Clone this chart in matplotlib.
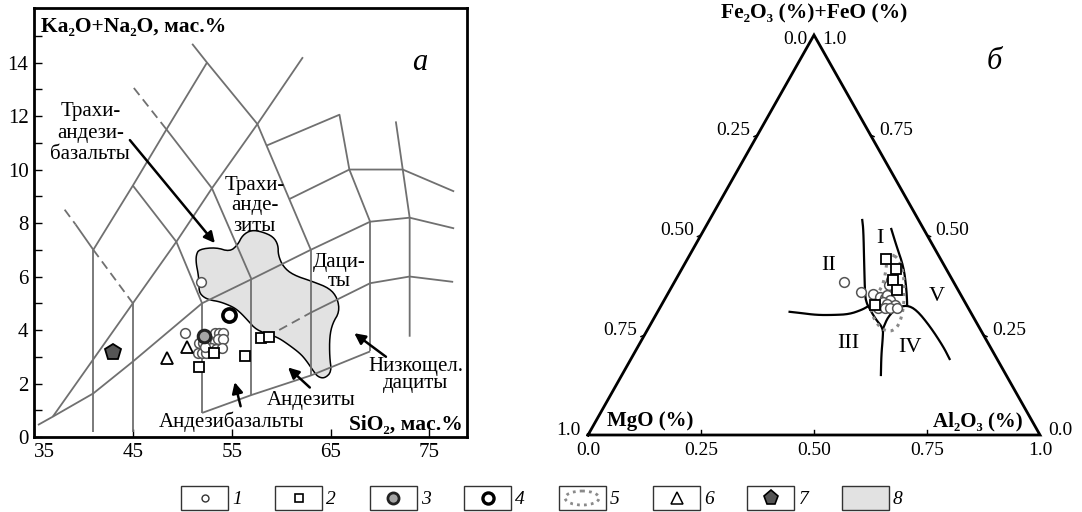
import matplotlib.pyplot as plt
from matplotlib.patches import Polygon, Rectangle, Ellipse

plt.rcParams['font.family'] = ['Liberation Serif', 'DejaVu Serif']

W, H = 1082, 512
GRID = '#707070'

# ---------------- panel a: SiO2 vs Na2O+K2O (wt.%) ----------------
# 1 - open circles
SIO2_1 = [51.9, 50.3, 53.3, 53.7, 54.1, 51.7, 52.1, 52.6, 53.3, 53.6, 54.1,
          51.6, 52.0, 52.4, 52.9, 53.4, 54.0, 52.3]
ALK_1 = [5.81, 3.88, 3.88, 3.88, 3.88, 3.50, 3.53, 3.56, 3.56, 3.65, 3.65,
         3.15, 3.15, 3.15, 3.32, 3.28, 3.32, 3.38]
# 2 - squares
SIO2_2 = [51.7, 53.2, 56.3, 58.0, 58.75]
ALK_2 = [2.63, 3.13, 3.03, 3.69, 3.75]
# 3 - grey circle, 4 - bold circle, 6 - triangles, 7 - pentagon
SIO2_3, ALK_3 = [52.2], [3.78]
SIO2_4, ALK_4 = [54.7], [4.56]
SIO2_6, ALK_6 = [48.5, 50.5], [2.94, 3.38]
SIO2_7, ALK_7 = [43.0], [3.19]

# 8 - field of the complex (grey area)
FIELD_SIO2 = [51.4, 51.7, 53.4, 54.8, 55.6, 56.1, 57.0, 58.1, 59.2, 59.7, 59.7,
              60.2, 61.2, 63.2, 64.9, 65.7, 65.9, 65.2, 64.9, 64.9, 65.1, 64.4,
              63.7, 63.2, 62.5, 61.9, 60.8, 59.8, 59.0, 57.5, 56.6, 55.8, 55.1,
              53.8, 52.8, 52.1, 51.7, 51.7, 51.6, 51.4]
FIELD_ALK = [6.80, 7.02, 7.09, 6.93, 7.18, 7.55, 7.74, 7.67, 7.49, 7.18, 6.80,
             6.37, 6.06, 5.81, 5.56, 5.19, 4.68, 4.25, 3.75, 3.00, 2.44, 2.19,
             2.25, 2.50, 2.88, 3.13, 3.44, 3.69, 3.81, 4.00, 4.37, 4.68, 4.87,
             5.06, 5.12, 5.24, 5.43, 5.75, 6.12, 6.49]

# classification boundaries (SiO2, alk)
TAS_SOLID = [
    [(51.0, 14.7), (52.5, 14.0), (57.6, 11.7), (63.0, 7.0)],
    [(57.6, 11.7), (62.2, 14.2)],
    [(41.0, 7.0), (45.0, 9.4), (48.4, 11.5), (52.5, 14.0)],
    [(48.4, 11.5), (53.0, 9.3), (57.0, 5.9)],
    [(45.0, 9.4), (49.4, 7.3), (52.0, 5.0)],
    [(36.9, 0.76), (45.0, 5.0), (49.4, 7.3), (53.0, 9.3), (57.6, 11.7)],
    [(35.4, 0.45), (36.9, 0.76), (41.0, 1.63), (45.0, 2.82), (52.0, 5.0),
     (57.0, 5.9), (63.0, 7.0), (69.0, 8.05), (73.0, 8.2), (77.5, 7.8)],
    [(41.0, 7.0), (41.0, 0.2)],
    [(45.0, 5.0), (45.0, 0.2)],
    [(52.0, 5.0), (52.0, 0.9)],
    [(57.0, 5.9), (57.0, 1.57)],
    [(63.0, 7.0), (63.0, 2.3)],
    [(69.0, 8.05), (69.0, 3.2)],
    [(52.0, 0.9), (57.0, 1.57), (63.0, 2.3), (69.0, 3.2)],
    [(63.0, 4.65), (69.0, 5.75), (73.0, 6.0), (77.4, 5.8)],
    [(71.6, 11.8), (72.3, 10.0), (73.0, 8.2), (73.0, 3.75)],
    [(58.55, 10.9), (65.9, 12.05), (66.9, 10.0), (69.0, 8.05)],
    [(60.85, 8.9), (66.9, 10.0), (72.3, 10.0), (77.5, 9.18)],
    [(39.2, 7.95), (41.0, 7.0)],
]
TAS_DASHED = [
    [(45.1, 13.05), (48.4, 11.5)],
    [(59.8, 4.0), (63.0, 4.65)],
    [(38.1, 8.5), (39.2, 7.95)],
    [(41.0, 7.0), (45.0, 5.0)],
]

# ---------------- panel b: MgO - FeOt - Al2O3 ----------------
FE_1 = [0.383, 0.357, 0.3525, 0.346, 0.342, 0.35, 0.3375, 0.333, 0.3275,
        0.325, 0.317, 0.317, 0.317, 0.317, 0.3875, 0.375]
AL_1 = [0.3755, 0.4265, 0.454, 0.473, 0.486, 0.487, 0.499, 0.4855, 0.498,
        0.5165, 0.4835, 0.4985, 0.5095, 0.5245, 0.476, 0.4795]
FE_2 = [0.439, 0.414, 0.3875, 0.3625, 0.325]
AL_2 = [0.4395, 0.474, 0.480, 0.503, 0.4725]

FE_5 = [0.452, 0.44, 0.41, 0.37, 0.33, 0.295, 0.268, 0.258, 0.265, 0.285,
        0.31, 0.335, 0.36, 0.385, 0.42, 0.445]
AL_5 = [0.446, 0.468, 0.492, 0.515, 0.534, 0.5465, 0.55, 0.539, 0.5175,
        0.4925, 0.471, 0.4625, 0.465, 0.4625, 0.45, 0.4395]

# field boundaries (Pearce et al.) as (FeOt, Al2O3) fractions
BND_A_FE = [0.5375, 0.5125, 0.429, 0.346, 0.329, 0.322, 0.29, 0.267, 0.24, 0.2, 0.15]
BND_A_AL = [0.338, 0.353, 0.3965, 0.44, 0.4525, 0.459, 0.491, 0.5195, 0.532, 0.549, 0.573]
BND_B_FE = [0.308, 0.305, 0.30, 0.30, 0.302, 0.313, 0.322]
BND_B_AL = [0.292, 0.3175, 0.356, 0.393, 0.427, 0.4495, 0.459]
BND_C_FE = [0.267, 0.296, 0.317, 0.325, 0.3125, 0.271, 0.221, 0.19]
BND_C_AL = [0.5195, 0.516, 0.5245, 0.5425, 0.5708, 0.6215, 0.6755, 0.705]
BND_D_FE = [0.515, 0.471, 0.421, 0.371, 0.333, 0.325]
BND_D_AL = [0.4135, 0.4475, 0.4875, 0.5185, 0.5395, 0.5435]

TERN_TICKS = [0.25, 0.50, 0.75]
LEG_LABELS = ['1', '2', '3', '4', '5', '6', '7', '8']


def tern(fe, al):
    return [a + f / 2 for f, a in zip(fe, al)], list(fe)


def chaikin(xs, ys, closed=False, n=2):
    # corner cutting, only to round off the hand-traced outlines
    pts = list(zip(xs, ys))
    for _ in range(n):
        out = [] if closed else [pts[0]]
        m = len(pts) if closed else len(pts) - 1
        for i in range(m):
            (x0, y0), (x1, y1) = pts[i], pts[(i + 1) % len(pts)]
            out.append((0.75 * x0 + 0.25 * x1, 0.75 * y0 + 0.25 * y1))
            out.append((0.25 * x0 + 0.75 * x1, 0.25 * y0 + 0.75 * y1))
        if not closed:
            out.append(pts[-1])
        pts = out
    return pts


def px_axes(x0, y0, x1, y1):
    return fig.add_axes([x0 / W, 1 - y1 / H, (x1 - x0) / W, (y1 - y0) / H])


fig = plt.figure(figsize=(W / 100, H / 100), dpi=100)

# ================= panel a =================
ax = px_axes(34, 8, 467, 437)
ax.set_xlim(35, 78.8)
ax.set_ylim(0, 16.04)
for s in ax.spines.values():
    s.set_linewidth(2)
ax.set_xticks([35, 45, 55, 65, 75])
ax.set_yticks(range(0, 15, 2))
ax.set_yticks(range(1, 16, 2), minor=True)
ax.tick_params(direction='in', length=6, width=1, labelsize=15, pad=4)
ax.tick_params(which='minor', direction='in', length=6, width=1)
ax.get_xticklabels()[0].set_horizontalalignment('left')

ax.add_patch(Polygon(chaikin(FIELD_SIO2, FIELD_ALK, closed=True), closed=True,
                     facecolor='#e2e2e2', edgecolor='black', lw=1.1, zorder=1))
for seg in TAS_SOLID:
    xs, ys = zip(*seg)
    ax.plot(xs, ys, color=GRID, lw=1.3, zorder=2, solid_capstyle='butt')
for seg in TAS_DASHED:
    xs, ys = zip(*seg)
    ax.plot(xs, ys, color=GRID, lw=1.3, ls=(0, (5, 3)), zorder=2)

ax.plot(SIO2_1, ALK_1, 'o', ms=7, mfc='white', mec='#555555', mew=1.1, zorder=4)
ax.plot(SIO2_6, ALK_6, '^', ms=9, mfc='white', mec='black', mew=1.3, zorder=4)
ax.plot(SIO2_2, ALK_2, 's', ms=7.5, mfc='white', mec='black', mew=1.3, zorder=5)
ax.plot(SIO2_3, ALK_3, 'o', ms=9, mfc='#a5a5a5', mec='#222222', mew=2.2, zorder=5)
ax.plot(SIO2_4, ALK_4, 'o', ms=9.5, mfc='white', mec='black', mew=2.6, zorder=5)
ax.plot(SIO2_7, ALK_7, 'p', ms=12, mfc='#555555', mec='black', mew=1.3, zorder=5)

ax.text(35.7, 15.15, 'Ka₂O+Na₂O, мас.%', fontsize=15.5, fontweight='bold',
        va='baseline', ha='left')
ax.text(78.4, 0.25, 'SiO₂, мас.%', fontsize=15.5, fontweight='bold',
        va='baseline', ha='right')
ax.text(74.0, 14.0, 'а', fontsize=22, style='italic', va='center', ha='center')

lab = dict(fontsize=15, ha='center', va='center')
ax.text(40.7, 11.36, 'Трахи-\nандези-\nбазальты', linespacing=1.2, **lab)
ax.text(57.3, 8.64, 'Трахи-\nанде-\nзиты', linespacing=1.1, **lab)
ax.text(65.9, 6.17, 'Даци-\nты', linespacing=1.0, **lab)
ax.text(73.6, 2.32, 'Низкощел.\nдациты', linespacing=0.85, **lab)
ax.text(63.0, 1.38, 'Андезиты', **lab)
ax.text(55.0, 0.57, 'Андезибазальты', **lab)

arr = dict(arrowstyle='-|>', color='black', lw=1.8, mutation_scale=16,
           shrinkA=0, shrinkB=0)
ax.annotate('', xy=(53.3, 7.25), xytext=(44.7, 11.1), arrowprops=arr, zorder=6)
ax.annotate('', xy=(67.4, 3.88), xytext=(70.6, 3.0), arrowprops=arr, zorder=6)
ax.annotate('', xy=(60.7, 2.6), xytext=(62.9, 1.85), arrowprops=arr, zorder=6)
ax.annotate('', xy=(55.3, 2.05), xytext=(55.9, 1.15), arrowprops=arr, zorder=6)

# ================= panel b =================
bx = px_axes(588, 35, 1040, 435)
bx.set_xlim(0, 1)
bx.set_ylim(0, 1)
bx.axis('off')

tx, ty = tern([0, 0, 1, 0], [0, 1, 0, 0])
bx.plot(tx, ty, color='black', lw=2, clip_on=False, solid_joinstyle='miter')

for fe, al in [(BND_A_FE, BND_A_AL), (BND_B_FE, BND_B_AL),
               (BND_C_FE, BND_C_AL), (BND_D_FE, BND_D_AL)]:
    x, y = tern(fe, al)
    xs, ys = zip(*chaikin(x, y))
    bx.plot(xs, ys, color='black', lw=1.6, zorder=2)

x, y = tern(FE_5, AL_5)
xs, ys = zip(*chaikin(x, y, closed=True))
bx.plot(list(xs) + [xs[0]], list(ys) + [ys[0]], color='#8a8a8a', lw=2.2,
        ls=(0, (1, 1.6)), zorder=3)
x, y = tern(FE_1, AL_1)
bx.plot(x, y, 'o', ms=7, mfc='white', mec='#555555', mew=1.1, zorder=4)
x, y = tern(FE_2, AL_2)
bx.plot(x, y, 's', ms=7.5, mfc='white', mec='black', mew=1.3, zorder=5)

tk = dict(fontsize=14, textcoords='offset points', annotation_clip=False)
for v in [0.0] + TERN_TICKS + [1.0]:
    txt = f'{v:.2f}' if v in TERN_TICKS else f'{v:.1f}'
    bx.annotate(txt, (v, 0), xytext=(0, -5), ha='center', va='top', **tk)
    dy_left = -3 if v == 0.0 else 3
    dy_right = -3 if v == 1.0 else 3
    bx.annotate(txt, (0.5 * (1 - v), 1 - v), xytext=(-5, dy_left), ha='right', va='center', **tk)
    bx.annotate(txt, (1 - v / 2, v), xytext=(6, dy_right), ha='left', va='center', **tk)
for v in TERN_TICKS:
    bx.plot([v, v], [0, 0.012], color='black', lw=1)
    bx.plot([0.5 * (1 - v), 0.5 * (1 - v) - 0.008], [1 - v, 1 - v - 0.004], color='black', lw=1)
    bx.plot([1 - v / 2, 1 - v / 2 + 0.008], [v, v - 0.004], color='black', lw=1)

bx.text(0.5, 1.055, 'Fe₂O₃ (%)+FeO (%)', fontsize=15.5, fontweight='bold',
        ha='center', va='center')
bx.text(0.137, 0.035, 'MgO (%)', fontsize=15, fontweight='bold', ha='center', va='center')
bx.text(0.862, 0.035, 'Al₂O₃ (%)', fontsize=15, fontweight='bold', ha='center', va='center')
bx.text(0.90, 0.933, 'б', fontsize=22, style='italic', ha='center', va='center')

fl = dict(fontsize=16, ha='center', va='center')
bx.text(0.646, 0.492, 'I', **fl)
bx.text(0.532, 0.423, 'II', **fl)
bx.text(0.575, 0.229, 'III', **fl)
bx.text(0.712, 0.219, 'IV', **fl)
bx.text(0.772, 0.346, 'V', **fl)

# ================= legend =================
lg = fig.add_axes([0, 0, 1, 1])
lg.set_xlim(0, W)
lg.set_ylim(H, 0)
lg.axis('off')
for i, lab_txt in enumerate(LEG_LABELS):
    x0 = 181 + i * 94.4
    cx, cy = x0 + 23.5, 498
    lg.add_patch(Rectangle((x0, 486), 47, 24, facecolor='#e2e2e2' if i == 7 else 'white',
                           edgecolor='#333333', lw=1))
    if i == 0:
        lg.plot(cx, cy, 'o', ms=5, mfc='white', mec='#333333', mew=1)
    elif i == 1:
        lg.plot(cx, cy, 's', ms=6, mfc='white', mec='black', mew=1.2)
    elif i == 2:
        lg.plot(cx, cy, 'o', ms=8, mfc='#a5a5a5', mec='#222222', mew=2)
    elif i == 3:
        lg.plot(cx, cy, 'o', ms=8, mfc='white', mec='black', mew=2.4)
    elif i == 4:
        lg.add_patch(Ellipse((cx, cy), 34, 14, fill=False, edgecolor='#8a8a8a',
                             lw=2, ls=(0, (1, 1.5))))
    elif i == 5:
        lg.plot(cx, cy, '^', ms=8, mfc='white', mec='black', mew=1.1)
    elif i == 6:
        lg.plot(cx, cy, 'p', ms=11, mfc='#555555', mec='black', mew=1.2)
    lg.text(x0 + 51, cy + 1, lab_txt, fontsize=14, style='italic', ha='left', va='center')

fig.savefig('out.png', dpi=100)
